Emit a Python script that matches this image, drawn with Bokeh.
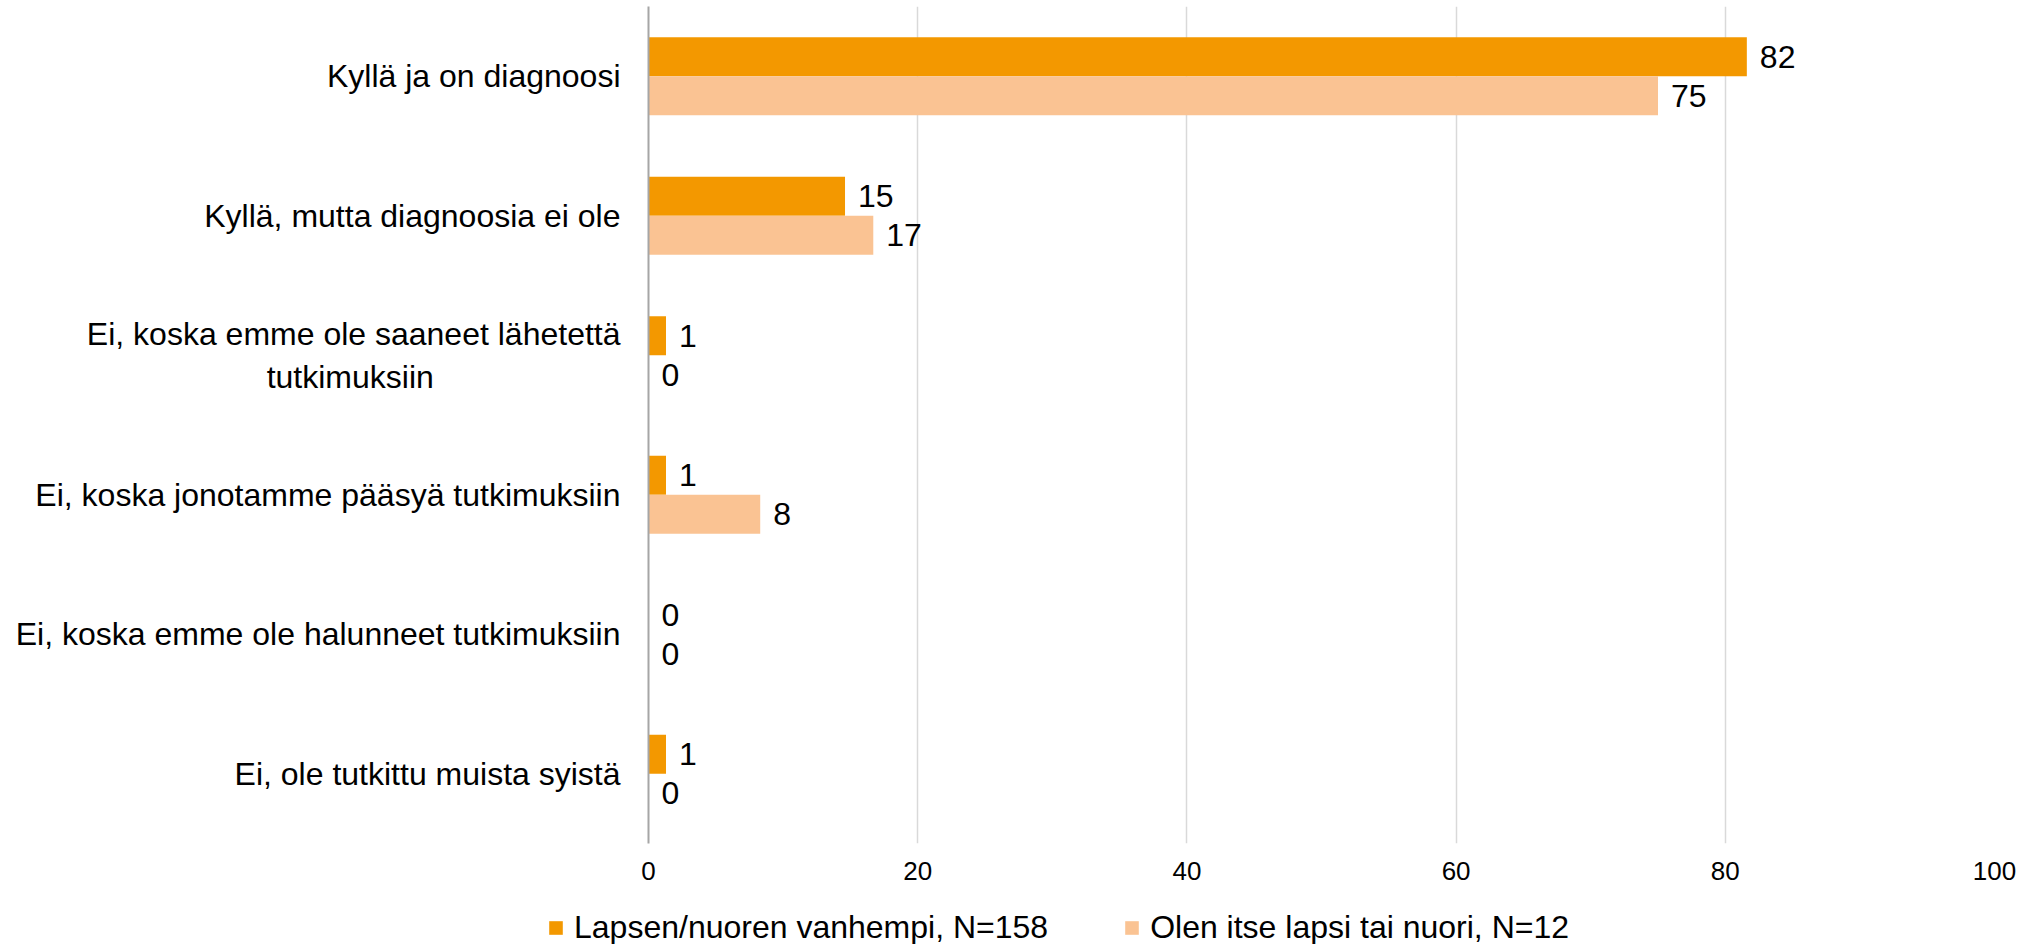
from bokeh.plotting import figure
from bokeh.layouts import column, row
from bokeh.models import FactorRange, Legend, LegendItem, ColumnDataSource, FixedTicker
from bokeh.transform import dodge
from bokeh.core.properties import value
from bokeh.embed import file_html
from bokeh.resources import INLINE

NBSP = "\u00a0"
categories = [
    "Kyllä ja on diagnoosi",
    "Kyllä, mutta diagnoosia ei ole",
    "Ei, koska emme ole saaneet lähetettä\ntutkimuksiin" + NBSP * 21,
    "Ei, koska jonotamme pääsyä tutkimuksiin",
    "Ei, koska emme ole halunneet tutkimuksiin",
    "Ei, ole tutkittu muista syistä",
]
series_names = ["Lapsen/nuoren vanhempi, N=158", "Olen itse lapsi tai nuori, N=12"]
parents = [81.6, 14.6, 1.3, 1.3, 0.0, 1.3]
youth = [75.0, 16.7, 0.0, 8.3, 0.0, 0.0]
x_ticks = [0, 20, 40, 60, 80, 100]

colors = ["#F39800", "#FAC393"]
FONT = "Liberation Sans"

src = ColumnDataSource(dict(
    cat=categories,
    parents=parents,
    youth=youth,
    lab_p=[str(int(round(v))) for v in parents],
    lab_y=[str(int(round(v))) for v in youth],
))

p = figure(
    width=2026, height=895,
    y_range=FactorRange(*categories[::-1]),
    x_range=(0, 100),
    output_backend="svg", toolbar_location=None,
    min_border_left=648, min_border_right=32, min_border_top=6, min_border_bottom=52,
)
p.outline_line_color = None

r1 = p.hbar(y=dodge("cat", 0.14, range=p.y_range), right="parents", height=0.28,
            source=src, fill_color=colors[0], line_color=None)
r2 = p.hbar(y=dodge("cat", -0.14, range=p.y_range), right="youth", height=0.28,
            source=src, fill_color=colors[1], line_color=None)

p.text(x="parents", y=dodge("cat", 0.14, range=p.y_range), text="lab_p", source=src,
       x_offset=13, text_baseline="middle", text_align="left",
       text_font=value(FONT), text_font_size="32px", text_color="#000000")
p.text(x="youth", y=dodge("cat", -0.14, range=p.y_range), text="lab_y", source=src,
       x_offset=13, text_baseline="middle", text_align="left",
       text_font=value(FONT), text_font_size="32px", text_color="#000000")

# x axis
xa = p.xaxis[0]
xa.ticker = FixedTicker(ticks=x_ticks)
xa.axis_line_color = None
xa.major_tick_line_color = None
xa.major_tick_out = 0
xa.major_tick_in = 0
xa.minor_tick_line_color = None
xa.major_label_text_font = FONT
xa.major_label_text_font_size = "26px"
xa.major_label_text_color = "#000000"
xa.major_label_standoff = 18

# y axis
ya = p.yaxis[0]
ya.axis_line_color = "#A6A6A6"
ya.axis_line_width = 2
ya.major_tick_line_color = None
ya.major_tick_out = 0
ya.major_tick_in = 0
ya.minor_tick_line_color = None
ya.major_label_text_font = FONT
ya.major_label_text_font_size = "32px"
ya.major_label_text_color = "#000000"
ya.major_label_standoff = 28

p.xgrid.grid_line_color = "#D9D9D9"
p.xgrid.grid_line_width = 1.5
p.xgrid.ticker = FixedTicker(ticks=x_ticks)
p.ygrid.grid_line_color = None

# legend strip below the chart (its proxy renderers lie outside its visible ranges)
pl = figure(
    width=2026, height=49, x_range=(-2, -1), y_range=(-2, -1),
    output_backend="svg", toolbar_location=None,
    x_axis_location=None, y_axis_location=None,
    min_border_left=0, min_border_right=0, min_border_top=0, min_border_bottom=0,
)
pl.outline_line_color = None
pl.grid.visible = False
lr1 = pl.hbar(y="parents", right="parents", height=0, source=src,
              fill_color=colors[0], line_color=None)
lr2 = pl.hbar(y="youth", right="youth", height=0, source=src,
              fill_color=colors[1], line_color=None)

legend = Legend(
    items=[LegendItem(label=series_names[0], renderers=[lr1]),
           LegendItem(label=series_names[1], renderers=[lr2])],
    orientation="horizontal",
    location=(547, -2),
    label_text_font=FONT, label_text_font_size="32px", label_text_color="#000000",
    glyph_width=17, glyph_height=17, label_standoff=10, spacing=75,
    padding=0, margin=0, border_line_color=None, background_fill_alpha=0,
)
pl.add_layout(legend)

layout = column(p, row(pl), spacing=0)
open("out.html", "w").write(file_html(layout, INLINE))
